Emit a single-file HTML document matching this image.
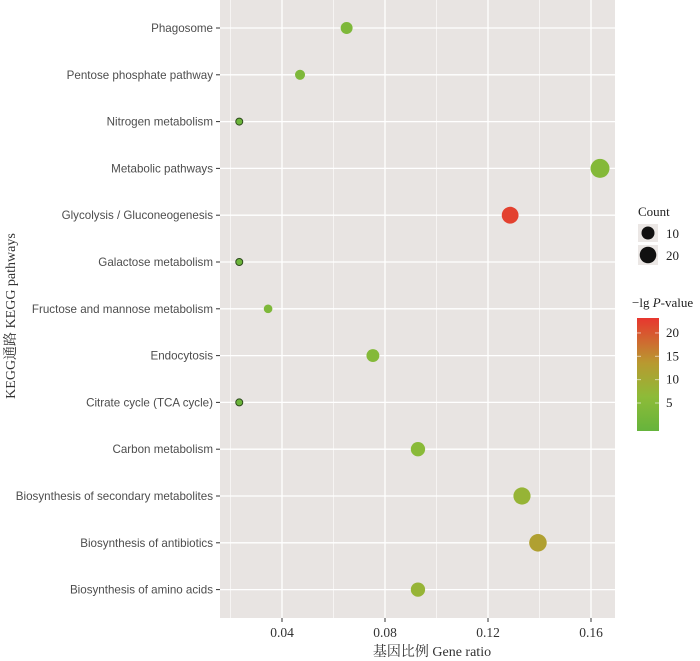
<!DOCTYPE html>
<html><head><meta charset="utf-8"><style>
body{margin:0;background:#fff}
svg{display:block}
</style></head><body>
<svg width="700" height="661" xmlns="http://www.w3.org/2000/svg" id="chart">
<defs><linearGradient id="cg" x1="0" y1="1" x2="0" y2="0">
<stop offset="0" stop-color="#66b43c"/><stop offset="0.3" stop-color="#8dbb38"/><stop offset="0.6" stop-color="#b89a30"/><stop offset="1" stop-color="#e8362f"/></linearGradient></defs>
<rect x="220" y="0" width="395" height="618" fill="#e8e4e2"/>
<g id="grid"></g><g id="yaxis"></g><g id="xaxis"></g><g id="pts"></g>
<text x="432" y="656" text-anchor="middle" font-family="Liberation Serif, Noto Serif CJK SC, serif" font-size="14" fill="#333">基因比例  Gene ratio</text>
<text transform="translate(15,316) rotate(-90)" text-anchor="middle" font-family="Liberation Serif, Noto Serif CJK SC, serif" font-size="14" fill="#333">KEGG通路  KEGG pathways</text>
<g>
<text x="638" y="216" font-family="Liberation Serif, serif" font-size="13" fill="#222">Count</text>
<rect x="638" y="224" width="20" height="18" fill="#ebe7e5"/><circle cx="648" cy="233" r="6.5" fill="#111"/>
<text x="666" y="238" font-family="Liberation Serif, serif" font-size="13" fill="#222">10</text>
<rect x="638" y="245" width="20" height="20" fill="#ebe7e5"/><circle cx="648" cy="255" r="8.3" fill="#111"/>
<text x="666" y="260" font-family="Liberation Serif, serif" font-size="13" fill="#222">20</text>
</g>
<g>
<text x="632" y="307" font-family="Liberation Serif, serif" font-size="13" fill="#222">−lg <tspan font-style="italic">P</tspan>-value</text>
<rect x="637" y="318" width="22" height="113" fill="url(#cg)"/>
<g id="cbt"></g>
</g>
</svg>
<script>
const pathways=["Phagosome","Pentose phosphate pathway","Nitrogen metabolism","Metabolic pathways","Glycolysis / Gluconeogenesis","Galactose metabolism","Fructose and mannose metabolism","Endocytosis","Citrate cycle (TCA cycle)","Carbon metabolism","Biosynthesis of secondary metabolites","Biosynthesis of antibiotics","Biosynthesis of amino acids"];
const geneRatio=[0.0651,0.047,0.0234,0.1635,0.1286,0.0234,0.0346,0.0753,0.0234,0.0928,0.1332,0.1394,0.0928];
const counts=[5.6,4,2,14,11,2,3,6.5,2,8,11.5,12,8];
const negLogP=[5,5,2,6,22,2,5,6,2,7,9,13,9];
const xTicks=[0.04,0.08,0.12,0.16];
const xMinor=[0.02,0.06,0.10,0.14];
const cbTicks=[5,10,15,20];
const NS="http://www.w3.org/2000/svg";
const X=v=>282+(v-0.04)*2575;
const Y=i=>28+i*46.8;
const R=c=>Math.sqrt(12.25+6.48*(c-2));
const CB=v=>403-(v-5)*4.67;
function mk(t,a,p){const e=document.createElementNS(NS,t);for(const k in a)e.setAttribute(k,a[k]);p.appendChild(e);return e;}
function lerp(a,b,t){return a.map((x,i)=>Math.round(x+(b[i]-x)*t));}
function col(v){const s=[[102,180,60],[141,187,56],[184,154,48],[232,54,47]],st=[0,0.3,0.6,1];
const t=Math.max(0,Math.min(1,(v-1)/22));let k=0;while(k<2&&t>st[k+1])k++;
return `rgb(${lerp(s[k],s[k+1],(t-st[k])/(st[k+1]-st[k]))})`;}
const g=document.getElementById('grid'),ya=document.getElementById('yaxis'),xa=document.getElementById('xaxis'),pts=document.getElementById('pts'),cbt=document.getElementById('cbt');
xMinor.forEach(v=>{const l=mk('line',{x1:X(v),x2:X(v),y1:0,y2:618,stroke:'#fff','stroke-width':0.6},g);

});
xTicks.forEach(v=>{const l=mk('line',{x1:X(v),x2:X(v),y1:0,y2:618,stroke:'#fff','stroke-width':1.3},g);


mk('line',{x1:X(v),x2:X(v),y1:618,y2:622,stroke:'#333'},xa);
const t=mk('text',{x:X(v),y:637,'text-anchor':'middle','font-family':'Liberation Serif, serif','font-size':13.5,fill:'#333'},xa);t.textContent=v.toFixed(2);

});
pathways.forEach((p,i)=>{const y=Y(i);
const l=mk('line',{x1:220,x2:615,y1:y,y2:y,stroke:'#fff','stroke-width':1.3},g);


mk('line',{x1:216,x2:220,y1:y,y2:y,stroke:'#333'},ya);
const t=mk('text',{x:213,y:y+4,'text-anchor':'end','font-family':'Liberation Sans, sans-serif','font-size':11.6,fill:'#4d4d4d'},ya);t.textContent=p;


const c=mk('circle',{cx:X(geneRatio[i]),cy:y,r:R(counts[i]),fill:col(negLogP[i])},pts);
if(counts[i]<=2){c.setAttribute('stroke','#2d4a1c');c.setAttribute('stroke-width','1');}

});
cbTicks.forEach(v=>{mk('line',{x1:637,x2:641,y1:CB(v),y2:CB(v),stroke:'#fff','stroke-opacity':0.6},cbt);
mk('line',{x1:655,x2:659,y1:CB(v),y2:CB(v),stroke:'#fff','stroke-opacity':0.6},cbt);
const t=mk('text',{x:666,y:CB(v)+4,'font-family':'Liberation Serif, serif','font-size':13,fill:'#222'},cbt);t.textContent=v;

});
</script>
</body></html>
